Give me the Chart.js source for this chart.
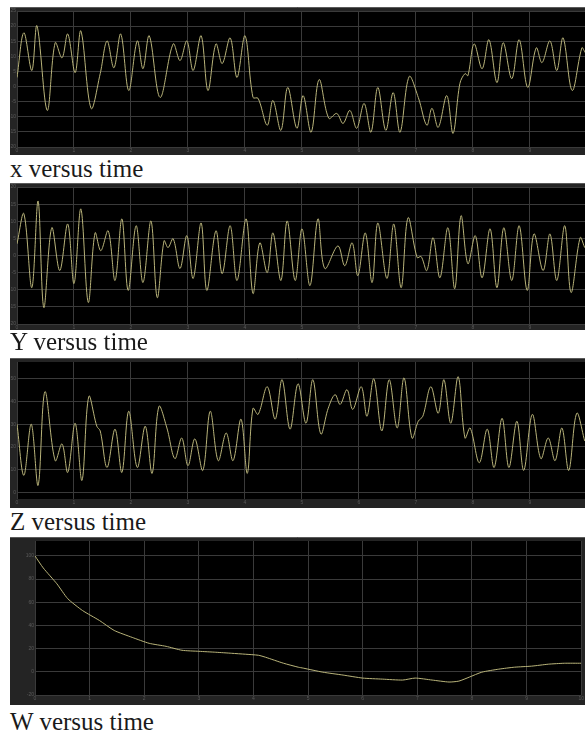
<!DOCTYPE html>
<html>
<head>
<meta charset="utf-8">
<script src="https://cdn.jsdelivr.net/npm/chart.js@4.4.1/dist/chart.umd.min.js"></script>
<style>
  html, body { margin: 0; padding: 0; background: #fff; width: 585px; height: 731px; overflow: hidden; }
  .scope { position: absolute; left: 10px; }
  .caption {
    position: absolute; left: 10px;
    font-family: "Liberation Serif", "DejaVu Serif", serif;
    font-size: 25px; line-height: 25px; color: #1a1a1a; white-space: nowrap;
  }
</style>
</head>
<body>
<canvas id="scopeX" class="scope" width="575" height="148" style="top:7px"></canvas>
<div class="caption" style="top:156px">x versus time</div>
<canvas id="scopeY" class="scope" width="575" height="147" style="top:183px"></canvas>
<div class="caption" style="top:329px">Y versus time</div>
<canvas id="scopeZ" class="scope" width="575" height="150" style="top:358px"></canvas>
<div class="caption" style="top:509px">Z versus time</div>
<canvas id="scopeW" class="scope" width="575" height="168" style="top:537px"></canvas>
<div class="caption" style="top:709px">W versus time</div>

<script>
// x versus time
const xTime = [0, 0.12, 0.26, 0.35, 0.53, 0.67, 0.79, 0.89, 1.02, 1.12,
  1.30, 1.46, 1.58, 1.70, 1.82, 1.96, 2.11, 2.21, 2.32, 2.51,
  2.74, 2.86, 2.98, 3.09, 3.23, 3.35, 3.49, 3.60, 3.74, 3.86,
  4.00, 4.14, 4.23, 4.39, 4.49, 4.63, 4.75, 4.91, 5.02, 5.16,
  5.30, 5.47, 5.61, 5.72, 5.84, 5.96, 6.09, 6.21, 6.33, 6.47,
  6.60, 6.72, 6.88, 7.04, 7.19, 7.28, 7.39, 7.54, 7.65, 7.77,
  7.86, 7.91, 8.02, 8.16, 8.28, 8.42, 8.53, 8.68, 8.81, 8.96,
  9.11, 9.21, 9.35, 9.47, 9.58, 9.74, 9.91, 9.97];
const xVals = [3.0, 17.8, 5.3, 20.1, -7.9, 14.5, 9.5, 17.4, 4.6, 18.4,
  -7.2, 4.3, 15.1, 6.2, 17.4, -1.3, 15.1, 5.9, 16.8, -3.6,
  14.1, 8.6, 15.1, 5.3, 16.8, -1.3, 14.1, 7.6, 16.1, 3.0,
  16.8, -3.6, -3.9, -12.8, -4.6, -14.5, -0.3, -13.8, -3.0, -15.1,
  2.3, -10.5, -8.9, -12.2, -7.9, -13.8, -5.6, -15.1, -0.3, -14.5,
  -2.0, -15.1, 3.3, -3.6, -12.8, -7.2, -13.5, -3.0, -15.5, 1.0,
  4.3, 3.6, 14.1, 5.9, 15.5, 1.3, 14.5, 2.6, 15.5, -0.3,
  12.8, 7.9, 15.1, 5.3, 16.1, -1.3, 12.8, 11.2];

// Y versus time
const yTime = [0, 0.12, 0.26, 0.37, 0.47, 0.61, 0.75, 0.89, 1.00, 1.12,
  1.25, 1.37, 1.47, 1.60, 1.72, 1.84, 1.95, 2.09, 2.21, 2.35,
  2.46, 2.58, 2.65, 2.74, 2.86, 2.98, 3.09, 3.23, 3.33, 3.49,
  3.60, 3.74, 3.86, 4.02, 4.14, 4.26, 4.39, 4.49, 4.63, 4.74,
  4.88, 5.00, 5.14, 5.28, 5.40, 5.63, 5.75, 5.88, 5.98, 6.11,
  6.23, 6.33, 6.49, 6.61, 6.74, 6.86, 7.02, 7.09, 7.19, 7.30,
  7.42, 7.56, 7.68, 7.79, 7.91, 8.04, 8.16, 8.30, 8.42, 8.54,
  8.68, 8.81, 8.95, 9.07, 9.23, 9.35, 9.47, 9.61, 9.72, 9.88,
  9.96];
const yVals = [3.4, 12.2, -9.4, 15.9, -15.2, 8.1, -4.4, 9.2, -8.2, 13.6,
  -13.7, 6.6, 1.4, 7.2, -7.3, 10.7, -10.2, 8.7, -7.9, 10.1,
  -12.3, 4.3, 2.3, 4.9, -3.8, 5.8, -6.7, 9.5, -10.2, 7.2,
  -5.3, 8.7, -7.3, 10.7, -11.1, 3.7, -5.0, 6.6, -7.3, 10.1,
  -7.3, 7.8, -8.8, 10.7, -3.8, 2.8, -3.0, 3.7, -5.9, 6.6,
  -7.9, 9.5, -6.7, 9.2, -9.4, 11.0, -0.6, -0.3, -4.4, 5.2,
  -6.5, 8.1, -9.7, 11.6, -2.4, 5.8, -6.5, 7.8, -9.4, 8.1,
  -7.3, 8.7, -10.2, 6.3, -4.4, 6.3, -7.3, 8.7, -10.8, 5.2,
  2.3];

// Z versus time
const zTime = [0, 0.12, 0.25, 0.37, 0.49, 0.67, 0.79, 0.89, 1.02, 1.14,
  1.26, 1.40, 1.46, 1.58, 1.72, 1.84, 1.96, 2.11, 2.25, 2.37,
  2.49, 2.63, 2.77, 2.89, 3.00, 3.12, 3.26, 3.39, 3.53, 3.67,
  3.79, 3.93, 4.04, 4.14, 4.23, 4.39, 4.53, 4.65, 4.79, 4.93,
  5.07, 5.19, 5.33, 5.46, 5.58, 5.67, 5.79, 5.89, 6.04, 6.14,
  6.26, 6.40, 6.53, 6.67, 6.79, 6.93, 7.04, 7.12, 7.26, 7.39,
  7.49, 7.61, 7.74, 7.86, 7.95, 8.11, 8.25, 8.37, 8.51, 8.63,
  8.77, 8.89, 9.04, 9.19, 9.32, 9.44, 9.56, 9.68, 9.82, 9.96];
const zVals = [30.0, 7.4, 30.0, 3.0, 44.3, 13.9, 21.3, 8.7, 30.4, 5.2,
  42.2, 29.1, 27.0, 10.9, 27.8, 8.7, 35.7, 10.9, 29.1, 8.3,
  37.8, 28.3, 14.8, 23.9, 11.7, 23.5, 9.6, 35.7, 13.9, 26.1,
  13.9, 32.2, 8.3, 37.0, 34.3, 46.5, 32.2, 49.6, 27.8, 47.8,
  30.4, 49.6, 25.7, 37.0, 43.0, 38.7, 45.2, 36.5, 46.5, 33.5,
  50.0, 27.0, 49.6, 28.3, 50.4, 23.9, 31.3, 33.5, 46.5, 34.8,
  49.6, 30.4, 50.9, 23.9, 28.3, 13.0, 27.8, 10.9, 32.6, 10.9,
  31.3, 9.6, 34.3, 14.8, 23.9, 13.9, 28.3, 9.6, 34.8, 22.6];

// W versus time
const wTime = [0, 0.15, 0.40, 0.60, 0.87, 1.18, 1.45, 1.78, 2.09, 2.40,
  2.69, 3.00, 3.31, 3.60, 3.85, 4.09, 4.22, 4.55, 4.82, 4.91,
  5.27, 5.64, 6.00, 6.36, 6.73, 6.96, 7.27, 7.58, 7.76, 7.95,
  8.18, 8.49, 8.78, 9.09, 9.40, 9.69, 10.0];
const wVals = [100, 89.7, 76.0, 63.1, 52.9, 44.3, 35.7, 29.7, 24.6, 22.0,
  18.6, 17.7, 16.9, 16.0, 15.2, 14.3, 12.6, 7.4, 4.0, 3.2,
  -0.3, -2.8, -5.4, -6.3, -7.1, -5.4, -7.1, -8.8, -8.0, -4.6,
  -0.3, 2.3, 4.0, 4.9, 6.6, 7.4, 7.4];

const LINE_COLOR = '#b9b47a';
const GRID_COLOR = '#3a3a3a';
const TICK_COLOR = '#5a5a5a';

// paints the scope frame: dark gray border strip, black plot area
const scopeBackground = {
  id: 'scopeBackground',
  beforeDraw(chart) {
    const { ctx, chartArea: a, width, height } = chart;
    ctx.save();
    ctx.fillStyle = '#242424';
    ctx.fillRect(0, 0, width, height);
    ctx.fillStyle = '#000';
    ctx.fillRect(a.left, a.top, a.right - a.left, a.bottom - a.top);
    ctx.strokeStyle = '#5a5a5a';
    ctx.lineWidth = 1;
    ctx.beginPath();
    ctx.moveTo(0, 0.5);
    ctx.lineTo(width, 0.5);
    ctx.stroke();
    ctx.restore();
  }
};

function makeScope(id, time, values, cfg) {
  new Chart(document.getElementById(id), {
    type: 'line',
    data: {
      datasets: [{
        data: time.map((t, i) => ({ x: t, y: values[i] })),
        borderColor: LINE_COLOR,
        borderWidth: 1,
        pointRadius: 0,
        tension: cfg.tension
      }]
    },
    options: {
      responsive: false,
      animation: false,
      devicePixelRatio: 1,
      layout: { padding: { top: cfg.padTop, right: 0, left: 0, bottom: 0 } },
      plugins: { legend: { display: false }, tooltip: { enabled: false } },
      scales: {
        x: {
          type: 'linear',
          min: 0,
          max: cfg.xMax,
          afterFit: s => { s.height = cfg.axisHeight; },
          grid: { color: GRID_COLOR, drawTicks: false },
          border: { display: false },
          ticks: { stepSize: 1, includeBounds: false, color: TICK_COLOR, font: { size: 5 }, padding: 1, maxRotation: 0 }
        },
        y: {
          min: cfg.yMin,
          max: cfg.yMax,
          afterFit: s => { s.width = cfg.axisWidth; },
          grid: { color: GRID_COLOR, drawTicks: false },
          border: { display: false },
          ticks: { stepSize: cfg.yStep, includeBounds: false, color: TICK_COLOR, font: { size: 5 }, padding: 1 }
        }
      }
    },
    plugins: [scopeBackground]
  });
}

makeScope('scopeX', xTime, xVals, { xMax: 9.965, yMin: -20, yMax: 25, yStep: 5, padTop: 2, axisHeight: 8, axisWidth: 7, tension: 0.35 });
makeScope('scopeY', yTime, yVals, { xMax: 9.965, yMin: -20, yMax: 20, yStep: 5, padTop: 3, axisHeight: 6, axisWidth: 7, tension: 0.35 });
makeScope('scopeZ', zTime, zVals, { xMax: 9.965, yMin: -3, yMax: 57.4, yStep: 10, padTop: 2, axisHeight: 9, axisWidth: 7, tension: 0.35 });
makeScope('scopeW', wTime, wVals, { xMax: 10, yMin: -20, yMax: 112.9, yStep: 20, padTop: 3, axisHeight: 10, axisWidth: 25, tension: 0.2 });
</script>
</body>
</html>
